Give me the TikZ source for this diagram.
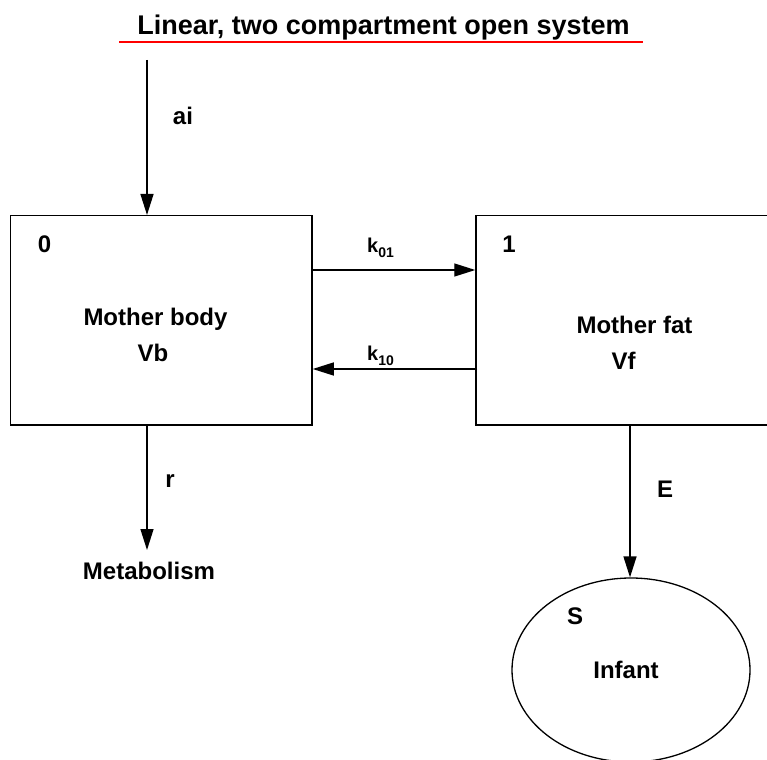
\documentclass[tikz,border=0pt]{standalone}
\usepackage{fontspec}
\setmainfont{Liberation Sans}
\usetikzlibrary{arrows.meta,shapes.geometric}
\tikzset{
  lbl/.style={inner sep=0pt, anchor=base, font=\fontsize{24}{28}\selectfont\bfseries},
  klbl/.style={inner sep=0pt, anchor=base west, font=\fontsize{20}{24}\selectfont\bfseries},
  comp/.style={draw, line width=1.5pt, rectangle, inner sep=0pt},
  arr/.style={line width=1.4pt, -{Triangle[length=21pt,width=13pt]}},
}
\newcommand{\subk}[1]{\raisebox{-5pt}{\fontsize{14}{14}\selectfont #1}}
\begin{document}
\begin{tikzpicture}[x=1pt,y=-1pt]
\useasboundingbox (0,0) rectangle (767,759);
\clip (0,0) rectangle (767,759);
\fill[white] (0,0) rectangle (767,759);
% title
\node[inner sep=0pt, anchor=base, font=\fontsize{27}{32}\selectfont\bfseries] (title) at (383.5,35) {Linear, two compartment open system};
\draw[red, line width=2pt] (119,42) -- (643,42);
% compartments
\node[comp, minimum width=301.3pt, minimum height=209.3pt] (lbox) at (161.35,320.35) {};
\node[comp, minimum width=400pt, minimum height=209.3pt] (rbox) at (676,320.35) {};
\node[draw, ellipse, line width=1.3pt, minimum width=238pt, minimum height=184pt, inner sep=0pt] (inf) at (631,670) {};
% texts
\node[lbl] (n0) at (44.5,252) {0};
\node[lbl] (n1) at (509,252) {1};
\node[lbl] (mb) at (155.5,325.7) {Mother body};
\node[lbl] (vb) at (153,361) {Vb};
\node[lbl] (mf) at (634.5,333) {Mother fat};
\node[lbl] (vf) at (623.5,369) {Vf};
\node[lbl] (ai) at (183,125) {ai};
\node[lbl] (r) at (170,487) {r};
\node[lbl] (metab) at (149,579) {Metabolism};
\node[lbl] (E) at (665,497) {E};
\node[lbl] (S) at (575,624) {S};
\node[lbl] (infant) at (626,678) {Infant};
\node[klbl] (k01) at (367,252) {k\subk{01}};
\node[klbl] (k10) at (367,360) {k\subk{10}};
% connectors
\coordinate (aitop) at (147,60);
\coordinate (mend) at (147,550);
\coordinate (y01) at (0,270);
\coordinate (y10) at (0,369);
\coordinate (ex) at (630,0);
\draw[arr] (aitop) -- (aitop |- lbox.north);
\draw[arr] (mend |- lbox.south) -- (mend);
\draw[arr] (lbox.east |- y01) -- (rbox.west |- y01);
\draw[arr] ([xshift=2pt]rbox.west |- y10) -- (lbox.east |- y10);
\draw[arr] (ex |- rbox.south) -- (ex |- inf.north);
\end{tikzpicture}
\end{document}
